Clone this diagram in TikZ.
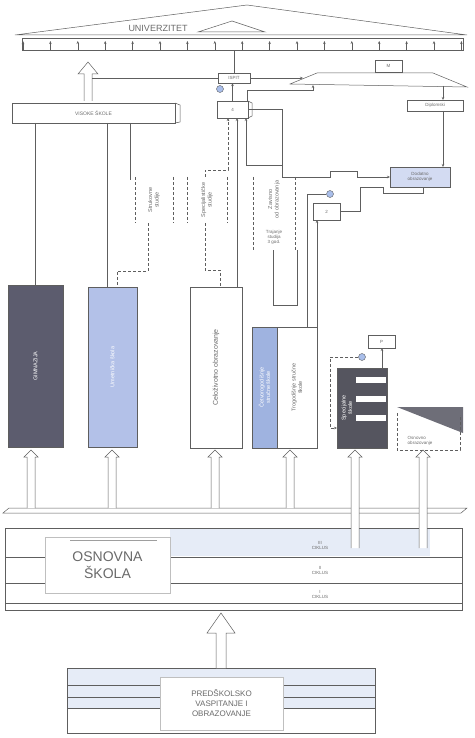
\documentclass[tikz,border=0pt]{standalone}
\usepackage{fontspec}
\setmainfont{Liberation Sans}
\usetikzlibrary{arrows.meta,positioning,calc}
\definecolor{esInk}{HTML}{5E5E5E}
\definecolor{esText}{HTML}{6A6A6A}
\definecolor{esGim}{HTML}{5C5C6E}
\definecolor{esUmet}{HTML}{B3C1E8}
\definecolor{esTrog}{HTML}{9FB3E0}
\definecolor{esSpc}{HTML}{55555F}
\definecolor{esPale}{HTML}{D3DBF2}
\definecolor{esBlob}{HTML}{A9BEEA}
\definecolor{esTint}{HTML}{E6ECF7}
\definecolor{esTri}{HTML}{6E6E78}
\tikzset{
  ln/.style={draw=esInk, line width=0.5pt},
  ar/.style={ln, -{Stealth[length=3pt,width=2.5pt]}},
  dln/.style={ln, densely dashed},
  dar/.style={dln, -{Stealth[length=3pt,width=2.5pt]}},
  box/.style={draw=esInk, line width=0.5pt, inner sep=1pt, outer sep=0pt, anchor=north west, font=\fontsize{4.5}{5}\selectfont, text=esText, align=center},
  colm/.style={inner sep=0pt, outer sep=0pt, anchor=north west},
  rot/.style={rotate=90, font=\fontsize{5.5}{6.5}\selectfont, text=esText, align=center},
  tinyT/.style={font=\fontsize{4.5}{5}\selectfont, text=esText, align=center},
  blob/.style={circle, draw=esInk, fill=esBlob, inner sep=0pt, minimum size=7pt},
  pipe/.style={draw=esInk, line width=0.5pt, fill=white},
}
\begin{document}
\begin{tikzpicture}[x=1pt, y=-1pt]
\useasboundingbox (0,0) rectangle (474,738);
% krov univerziteta
\draw[ln] (15,35) -- (247,5) -- (467,35) -- cycle;
\draw[ln] (198,32) -- (232,21) -- (265,32) -- cycle;
\node[font=\fontsize{9}{9}\selectfont, text=esText] (univ) at (158,28) {UNIVERZITET};
\node[box, minimum width=441pt, minimum height=12pt] (uni) at (22,38) {};
\foreach \i in {0,...,16}
  \draw[ar] ({23+27.4*\i},50) -- ++(0,-9);

% gornji deo
\node[box, minimum width=32pt, minimum height=10pt] (ispit) at (218,73) {ISPIT};
\node[box, minimum width=27pt, minimum height=12pt] (mag) at (375,60) {M};
\draw[ln] (290,84) -- (317,73) -- (433,73) -- (467,87) -- cycle;
\coordinate (trapL) at (303,78);
\coordinate (trapB) at (313,85);
\coordinate (trapR) at (443,86);
\node[box, minimum width=56pt, minimum height=11pt] (dipl) at (407,100) {Diplomski};
\node[box, minimum width=163pt, minimum height=20pt, font=\fontsize{5}{6}\selectfont] (vis) at (12,103) {VISOKE ŠKOLE};
\draw[ln] (vis.north east) -- ++(5,2) -- ++(0,17) -- ++(-5,1);
\node[box, minimum width=31pt, minimum height=17pt] (kv) at (217,101) {4};
\draw[ln] (kv.north east) -- ++(4,2) -- ++(0,13) -- ++(-4,2);
\node[box, fill=esPale, minimum width=60pt, minimum height=20pt] (dod) at (390,167) {Dodatno\\obrazovanje};
\node[box, minimum width=27pt, minimum height=17pt] (dva) at (313,203) {2};
\node[blob] (bl1) at (220,89) {};
\node[blob] (bl2) at (330,194) {};
\node[blob] (bl3) at (362,357) {};
\draw[pipe] (84,101) -- (84,74) -- (78,74) -- (88,62) -- (98,74) -- (92,74) -- (92,101);
\coordinate (hollowR) at (92,78);

% kolone
\node[colm, minimum width=38pt, minimum height=46pt] (stru) at (135,177) {};
\node[rot] (struT) at (stru.center) {Strukovne\\studije};
\draw[dln] (stru.north west) -- (stru.south west) (stru.north east) -- (stru.south east);
\node[colm, minimum width=40pt, minimum height=46pt] (spec) at (187,177) {};
\node[rot] (specT) at (spec.center) {Specijalističke\\studije};
\draw[dln] (spec.north west) -- (spec.south west) (spec.north east) -- (spec.south east);
\node[colm, minimum width=42pt, minimum height=73pt] (zav) at (253,177) {};
\node[rot] (zavT) at ([yshift=14pt]zav.center) {Zavisno\\od obrazovanja};
\node[tinyT] (zavS) at ([yshift=-24pt]zav.center) {Trajanje\\studija\\3 god.};
\draw[dln] (zav.north west) -- (zav.south west) (zav.north east) -- (zav.south east);

% srednje obrazovanje
\node[box, fill=esGim, minimum width=55pt, minimum height=162pt] (gim) at (8,285) {};
\node[rot, text=white] (gimT) at (gim.center) {GIMNAZIJA};
\node[box, fill=esUmet, minimum width=49pt, minimum height=160pt] (umet) at (88,287) {};
\node[rot, text=white] (umetT) at (umet.center) {Umetnička škola};
\node[box, minimum width=52pt, minimum height=161pt] (celo) at (190,287) {};
\node[rot, font=\fontsize{7}{8}\selectfont] (celoT) at (celo.center) {Celoživotno obrazovanje};
\node[box, fill=esTrog, minimum width=25pt, minimum height=121pt] (trogA) at (252,327) {};
\node[rot, text=white] (trogAT) at (trogA.center) {Četvorogodišnje\\stručne škole};
\node[box, minimum width=40pt, minimum height=121pt] (trogB) at (277,327) {};
\node[rot] (trogBT) at (trogB.center) {Trogodišnje stručne\\škole};
\node[box, fill=esSpc, minimum width=50pt, minimum height=80pt] (spc) at (337,368) {};
\foreach \yb in {377,396,415}
  \fill[white] (356,\yb) rectangle (386,{\yb+6});
\node[rot, text=white] (spcT) at ([xshift=-15pt]spc.center) {Specijalne\\škole};
\node[box, minimum width=27pt, minimum height=13pt] (pbox) at (368,335) {P};
\node[colm, minimum width=66pt, minimum height=43pt] (odr) at (397,407) {};
\fill[esTri] (odr.north west) -- (odr.north east) -- ([yshift=-26pt]odr.north east) -- cycle;
\draw[dln] ([yshift=-6pt]odr.north west) -- (odr.south west) -- ([xshift=-3pt]odr.south east) -- ([xshift=-3pt,yshift=-8pt]odr.north east);
\node[tinyT, align=left] (odrT) at ([xshift=-10pt,yshift=-12pt]odr.center) {Osnovno\\obrazovanje};

% veze
\draw[ln] (ispit.north) -- (ispit.north |- uni.south);
\draw[ar] (kv.north) -- (kv.north |- ispit.south);
\draw[ln] (hollowR) -- (ispit.west);
\draw[ar] (ispit.east) -- (trapL);
\draw[ar] ([xshift=-1pt]kv.north east) -- ++(0,-11) -| (trapB);
\draw[ar] (trapR) -- (trapR |- dipl.north);
\draw[ar] (dipl.south -| trapR) -- (dod.north -| trapR);
\draw[ar] (kv.east) -- (282,109.5) -- (282,177) -- (330,177) -- (330,171) -- (357,171) -- (357,177) -- (dod.west);
\draw[ar] (282,165) -| ([xshift=-2pt]kv.south east);
\draw[ln] ([xshift=3pt]dod.south) -- ++(0,6) -- (383,193) -- (383,187) -- (360,187) |- (dva.east);
\draw[ln] (bl2.west) -| ([xshift=-10pt]trogB.north east);
\draw[ar] (trogB.north east) -- (trogB.north east |- dva.south);
\draw[ln] (vis.south -| gim.north) -- (gim.north);
\coordinate (umetIn) at ([xshift=-5pt]umet.north);
\draw[ln] (umetIn |- vis.south) -- (umetIn);
\draw[ln] ([xshift=36.5pt]vis.south) -- ++(0,57);
\draw[dln] ([xshift=-6pt]stru.south) -- ++(0,48) -| ([xshift=4.5pt]umet.north);
\draw[dln] ([xshift=-2pt]spec.south) -- ++(0,47) -| ([xshift=4pt]celo.north);
\draw[dar] ([xshift=-2pt]spec.north) -- ++(0,-7) -| ([xshift=-4.5pt]kv.south);
\coordinate (celoIn) at ([xshift=21pt]celo.north);
\draw[ar] (celoIn) -- (celoIn |- kv.south);
\draw[ln] ([xshift=-1pt]zav.south) -- ++(0,55) -- ++(24,0) -- ++(0,-55);
\coordinate (spcIn) at ([xshift=20pt]spc.north);
\draw[ar] (spcIn) -- (spcIn |- pbox.south);
\coordinate (spcL) at ([yshift=-20pt]spc.west);
\draw[dar] (bl3.west) -- (330,357) |- (spcL);

% osnovna skola
\draw[pipe] (3,513) -- (9,508) -- (467,508) -- (461,513) -- cycle;
\fill[esTint] (170,529) rectangle (430,556);
\node[box, minimum width=457pt, minimum height=82pt] (os) at (5,528) {};
\draw[ln] (5,557) -- (45,557) (170,557) -- (462,557);
\draw[ln] (5,583) -- (45,583) (170,583) -- (462,583);
\draw[ln] (5,603) -- (462,603);
\node[box, draw=esInk!40, fill=white, minimum width=125pt, minimum height=56pt, font=\fontsize{14}{17}\selectfont] (oslab) at (45,537) {OSNOVNA\\ŠKOLA};
\draw[ln, draw=esInk!60] (70,540) -- (157,540);
\node[tinyT] (c3) at (320,545) {III\\CIKLUS};
\node[tinyT] (c2) at (320,570) {II\\CIKLUS};
\node[tinyT] (c1) at (320,594) {I\\CIKLUS};
\foreach \px in {31,112,215,290}
  \draw[pipe] ({\px-4},508) -- ({\px-4},457) -- ({\px-7},457) -- (\px,450) -- ({\px+7},457) -- ({\px+4},457) -- ({\px+4},508);
\foreach \px in {355,423}
  \draw[pipe] ({\px-4},548) -- ({\px-4},457) -- ({\px-7},457) -- (\px,450) -- ({\px+7},457) -- ({\px+4},457) -- ({\px+4},548);

% predskolsko
\fill[esTint] (67,668) rectangle (375,708);
\node[box, minimum width=308pt, minimum height=65pt] (pred) at (67,668) {};
\draw[ln] (67,685) -- (375,685) (67,697) -- (375,697) (67,708) -- (375,708);
\node[box, draw=esInk!40, fill=white, minimum width=123pt, minimum height=53pt, font=\fontsize{8}{10}\selectfont] (predlab) at (160,677) {PREDŠKOLSKO\\VASPITANJE I\\OBRAZOVANJE};
\draw[pipe] (216,668) -- (216,633) -- (207,633) -- (221,613) -- (235,633) -- (226,633) -- (226,668);
\end{tikzpicture}
\end{document}
